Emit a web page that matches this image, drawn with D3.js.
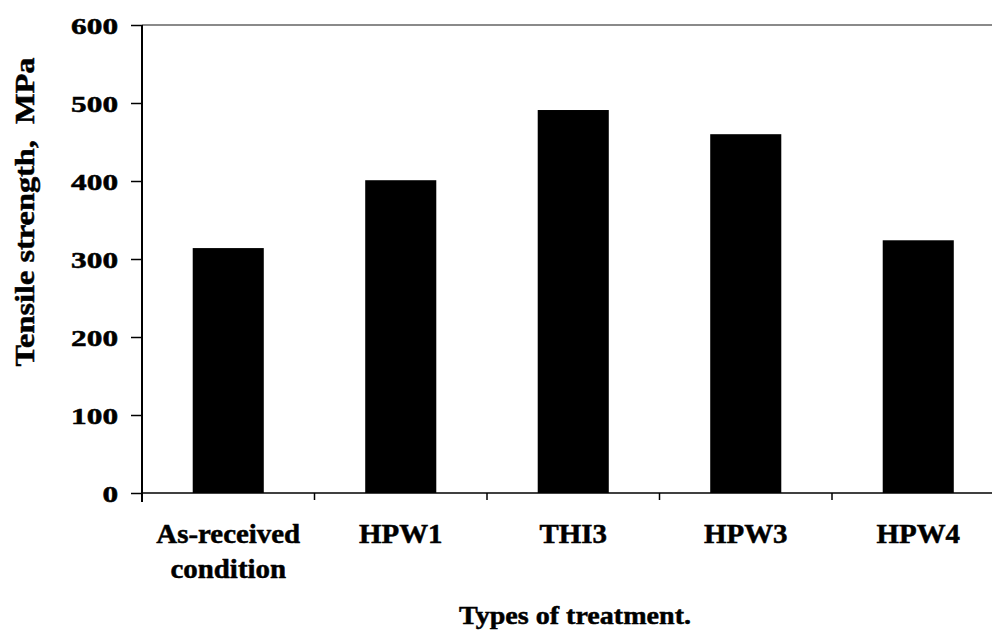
<!DOCTYPE html>
<html>
<head>
<meta charset="utf-8">
<script src="https://cdn.jsdelivr.net/npm/d3@7"></script>
<style>
  html, body { margin: 0; padding: 0; background: #fff; }
  svg { display: block; }
  text { font-family: "Liberation Serif", "Times New Roman", serif; font-weight: bold; fill: #000; stroke: #000; stroke-width: 0.5px; }
</style>
</head>
<body>
<svg id="chart" width="992" height="630"></svg>
<script>
// ---- data ----
const categories = ["As-received condition", "HPW1", "THI3", "HPW3", "HPW4"];
const categoryLines = [["As-received", "condition"], ["HPW1"], ["THI3"], ["HPW3"], ["HPW4"]];
const tensileStrength = [314, 401, 491, 460, 324];
const yTicks = [0, 100, 200, 300, 400, 500, 600];
const yTitle = "Tensile strength,\u00A0\u00A0MPa";
const xTitle = "Types of treatment.";

// ---- layout ----
const W = 992, H = 630;
const x0 = 142, yTop = 25, yBottom = 493;
const step = 172.5;
const svg = d3.select("#chart");

const x = d3.scaleBand()
  .domain(categories)
  .range([x0, x0 + step * categories.length])
  .paddingInner(0.588)
  .paddingOuter(0.294);

const y = d3.scaleLinear().domain([0, 600]).range([yBottom, yTop]);

// top gray border line
svg.append("line")
  .attr("x1", x0).attr("x2", W)
  .attr("y1", y(600)).attr("y2", y(600))
  .attr("stroke", "#8a8a8a").attr("stroke-width", 2);

// bars
svg.append("g").selectAll("rect")
  .data(categories)
  .join("rect")
  .attr("x", d => x(d))
  .attr("width", x.bandwidth())
  .attr("y", (d, i) => y(tensileStrength[i]))
  .attr("height", (d, i) => y(0) - y(tensileStrength[i]))
  .attr("fill", "#000");

// y axis
const yAxis = d3.axisLeft(y).tickValues(yTicks).tickSize(11).tickPadding(13).tickSizeOuter(0);
const gy = svg.append("g").attr("transform", `translate(${x0},0)`).call(yAxis);
gy.select(".domain").remove();
gy.selectAll(".tick line").attr("stroke", "#000").attr("stroke-width", 1.5);
gy.selectAll(".tick text")
  .style("font-size", "23px")
  .attr("font-family", null)
  .attr("dy", "0.36em")
  .each(function () {
    const w = this.getComputedTextLength();
    d3.select(this).attr("textLength", w * 1.36).attr("lengthAdjust", "spacingAndGlyphs");
  });
// y axis line (extends a bit below zero)
svg.append("line")
  .attr("x1", x0).attr("x2", x0)
  .attr("y1", y(600)).attr("y2", y(0) + 9)
  .attr("stroke", "#000").attr("stroke-width", 2);

// x axis line
svg.append("line")
  .attr("x1", x0).attr("x2", W)
  .attr("y1", y(0)).attr("y2", y(0))
  .attr("stroke", "#000").attr("stroke-width", 1.5);

// x boundary ticks
const boundaries = categories.slice(1).map(c => x(c) - x.step() * x.paddingInner() / 2);
svg.append("g").selectAll("line")
  .data(boundaries)
  .join("line")
  .attr("x1", d => d).attr("x2", d => d)
  .attr("y1", y(0)).attr("y2", y(0) + 7)
  .attr("stroke", "#000").attr("stroke-width", 1.5);

// category labels
const lab = svg.append("g").selectAll("text")
  .data(categories)
  .join("text")
  .attr("x", d => x(d) + x.bandwidth() / 2)
  .attr("y", 543)
  .attr("text-anchor", "middle")
  .style("font-size", "27px");
lab.each(function (d, i) {
  const t = d3.select(this);
  categoryLines[i].forEach((ln, k) => {
    t.append("tspan")
      .attr("x", x(d) + x.bandwidth() / 2)
      .attr("dy", k === 0 ? 0 : 35)
      .text(ln);
  });
});
lab.selectAll("tspan").each(function () {
  const w = this.getComputedTextLength();
  d3.select(this).attr("textLength", w * 1.07).attr("lengthAdjust", "spacingAndGlyphs");
});

// x title
const xt = svg.append("text")
  .attr("x", 575).attr("y", 624)
  .attr("text-anchor", "middle")
  .style("font-size", "26px")
  .text(xTitle);
xt.attr("textLength", 232).attr("lengthAdjust", "spacingAndGlyphs");

// y title
svg.append("text")
  .attr("transform", `translate(34,${212}) rotate(-90)`)
  .attr("text-anchor", "middle")
  .style("font-size", "27px")
  .attr("textLength", 309).attr("lengthAdjust", "spacingAndGlyphs")
  .text(yTitle);
</script>
</body>
</html>
